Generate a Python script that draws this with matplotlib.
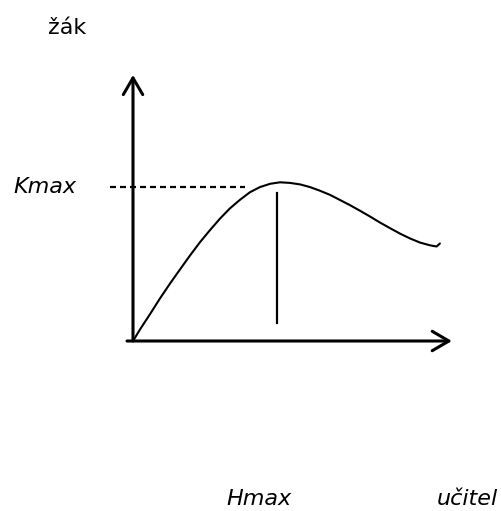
import matplotlib
matplotlib.use("Agg")
import matplotlib.pyplot as plt

# curve (axis units: origin at the axes corner)
curve_x = [0.0, 0.23, 0.57, 0.90, 1.23, 1.57, 1.90, 2.23, 2.57, 2.90, 3.23,
           3.57, 3.90, 4.23, 4.57, 4.90, 5.23, 5.57, 5.90, 6.23, 6.57, 6.90,
           7.23, 7.57, 7.90, 8.23, 8.57, 8.90, 9.23, 9.57, 9.90, 10.12, 10.23]
curve_y = [0.0, 0.38, 0.90, 1.42, 1.91, 2.39, 2.85, 3.29, 3.70, 4.08, 4.42,
           4.71, 4.96, 5.13, 5.24, 5.29, 5.27, 5.22, 5.13, 5.01, 4.87, 4.70,
           4.53, 4.34, 4.15, 3.95, 3.76, 3.58, 3.42, 3.28, 3.19, 3.15, 3.25]

kmax_y = 5.12
kmax_span = [-0.77, 3.73]
hmax_x = 4.8
hmax_span = [0.59, 4.92]

x_axis = [-0.2, 10.63]
y_axis = [0.0, 8.87]

labels = {
    "žák": (-2.18, 10.43, "normal"),
    "Kmax": (-2.93, 5.15, "italic"),
    "Hmax": (4.2, -5.27, "italic"),
    "učitel": (11.15, -5.27, "italic"),
}

fig = plt.figure(figsize=(5.01, 5.11), dpi=100)
ax = fig.add_axes([0, 0, 1, 1])
ax.set_xlim(-133 / 30, (501 - 133) / 30)
ax.set_ylim(-(511 - 341) / 30, 341 / 30)
ax.axis("off")

arrow = dict(arrowstyle="->,head_length=1.2,head_width=0.7", lw=2.2,
             color="black", shrinkA=0, shrinkB=0)
# axes with open arrow heads
ax.annotate("", xy=(x_axis[1], 0), xytext=(x_axis[0], 0), arrowprops=arrow)
ax.annotate("", xy=(0, y_axis[1]), xytext=(0, y_axis[0]), arrowprops=arrow)

ax.plot(curve_x, curve_y, color="black", lw=1.5, solid_capstyle="round",
        solid_joinstyle="round")
ax.plot(kmax_span, [kmax_y, kmax_y], color="black", lw=1.6, dashes=(2.7, 1.8))
ax.plot([hmax_x, hmax_x], hmax_span, color="black", lw=1.6)

for txt, (x, y, style) in labels.items():
    ax.text(x, y, txt, ha="center", va="center", fontsize=16,
            style=style, family="DejaVu Sans")

fig.savefig("out.png", dpi=100, facecolor="white")
